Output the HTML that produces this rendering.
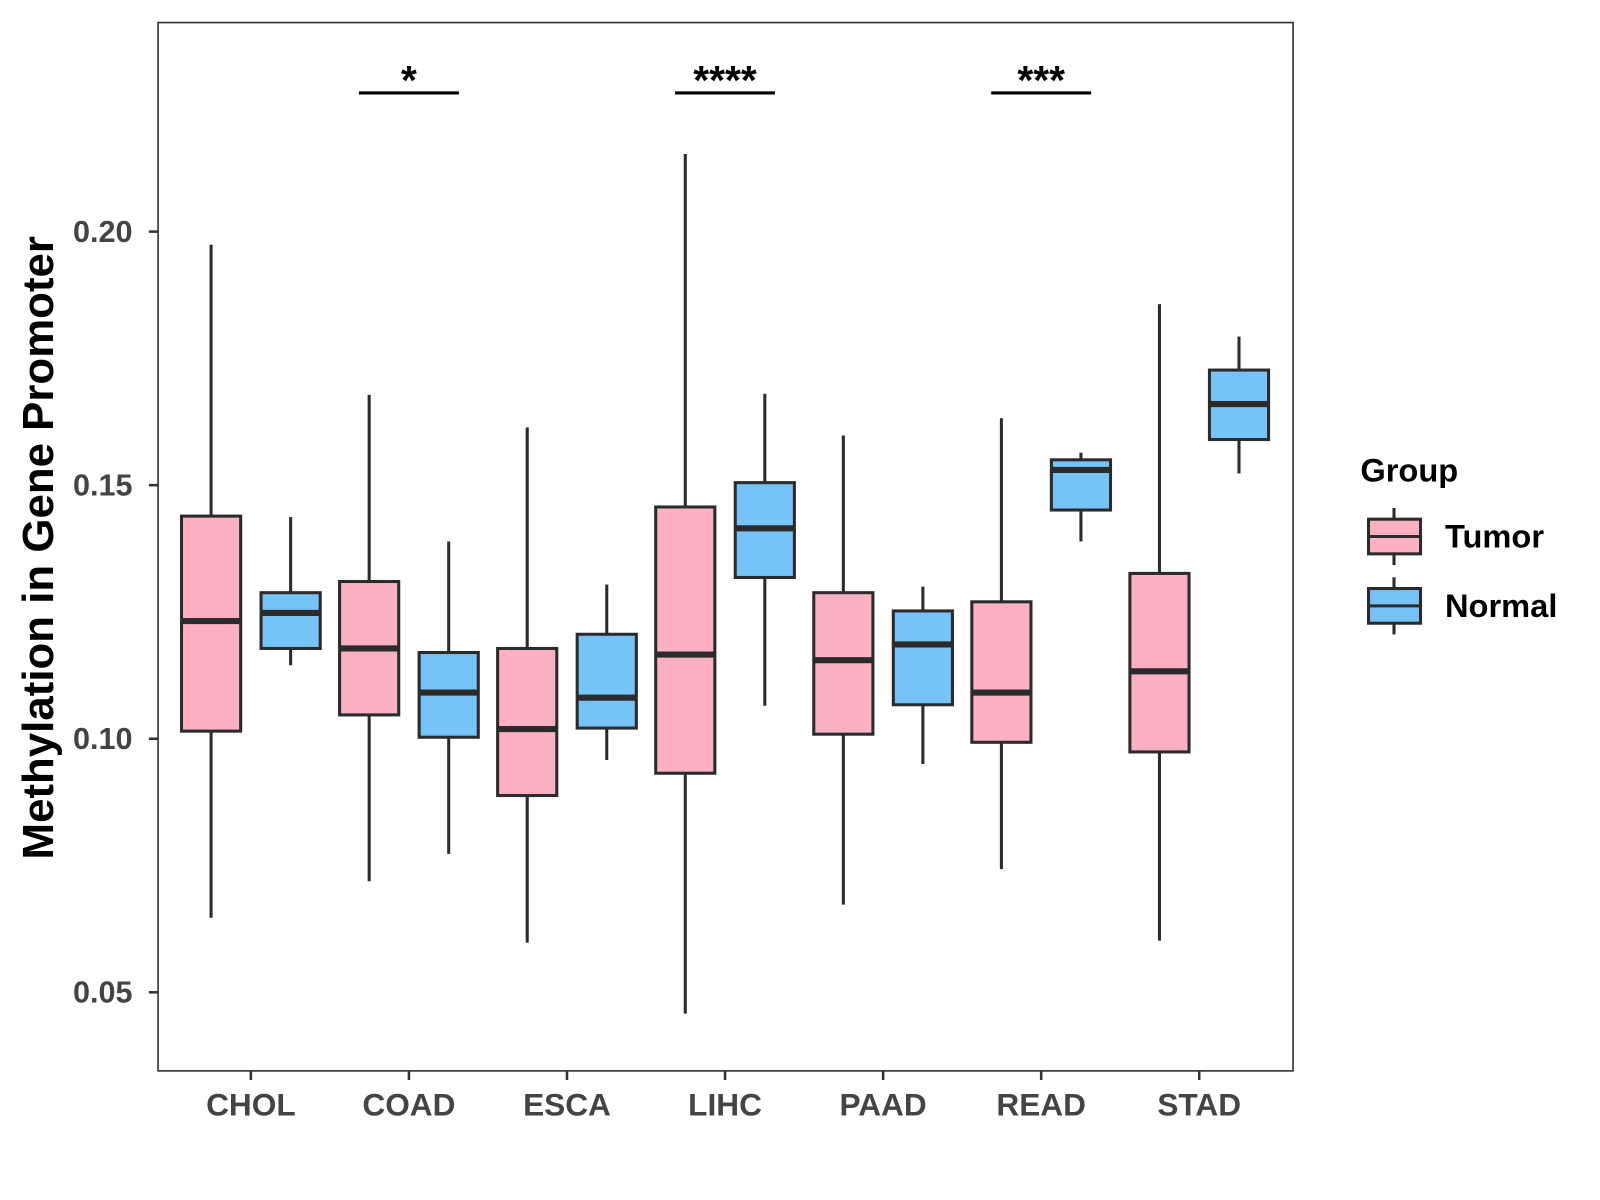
<!DOCTYPE html>
<html><head><meta charset="utf-8"><style>html,body{margin:0;padding:0;background:#fff}svg{display:block}</style></head>
<body>
<svg id="chart" width="1600" height="1200" viewBox="0 0 1569 1176.5" xmlns="http://www.w3.org/2000/svg" font-family="Liberation Sans, Arial, sans-serif">
<rect width="1569" height="1176.5" fill="#fff"/>
</svg>
<script>
const categories = ["CHOL","COAD","ESCA","LIHC","PAAD","READ","STAD"];
// [lowerWhisker, Q1, median, Q3, upperWhisker]
const tumorStats = [
 [0.0647,0.1015,0.1232,0.1439,0.1974],
 [0.0719,0.1047,0.1178,0.1310,0.1678],
 [0.0598,0.0888,0.1019,0.1178,0.1614],
 [0.0458,0.0932,0.1166,0.1457,0.2153],
 [0.0673,0.1009,0.1155,0.1288,0.1598],
 [0.0743,0.0993,0.1091,0.1270,0.1632],
 [0.0602,0.0974,0.1133,0.1326,0.1857]
];
const normalStats = [
 [0.1145,0.1178,0.1248,0.1288,0.1437],
 [0.0773,0.1003,0.1091,0.1170,0.1389],
 [0.0958,0.1021,0.1081,0.1206,0.1304],
 [0.1065,0.1318,0.1415,0.1505,0.1680],
 [0.0950,0.1067,0.1186,0.1252,0.1300],
 [0.1389,0.1451,0.1530,0.1550,0.1564],
 [0.1523,0.1590,0.1660,0.1727,0.1793]
];
const yTicks = [0.05,0.10,0.15,0.20];
const yTickLabels = ["0.05","0.10","0.15","0.20"];
const sigCategories = ["COAD","LIHC","READ"];
const sigLabels = ["*","****","***"];

const svg = document.getElementById('chart');
const NS = "http://www.w3.org/2000/svg";
const P = {l:155, r:1268, t:22, b:1050};
function y(v){ return 227 + (0.20 - v) * 4973; }
function x(i){ return 246 + i * 155; }
const W = 58, OFF = 39;
function mk(tag, attrs, parent){
  const e = document.createElementNS(NS, tag);
  for (const k in attrs) e.setAttribute(k, attrs[k]);
  (parent||svg).appendChild(e); return e;
}

const panel = mk('rect',{x:P.l,y:P.t,width:P.r-P.l,height:P.b-P.t,fill:'none',stroke:'#333','stroke-width':1.6});



yTicks.forEach((v,i)=>{
  const t = mk('line',{x1:P.l-9,x2:P.l,y1:y(v),y2:y(v),stroke:'#333','stroke-width':2.5});
  
  
  const lb = mk('text',{x:P.l-25,y:y(v)+10,'text-anchor':'end','font-size':30,'font-weight':'bold',fill:'#444'});
  lb.textContent = yTickLabels[i];
  
  
});
const yt = mk('text',{x:0,y:0,transform:'translate(52,537) rotate(-90)','text-anchor':'middle','font-size':43,'font-weight':'bold',fill:'#000'});
yt.textContent = "Methylation in Gene Promoter";



categories.forEach((c,i)=>{
  const t = mk('line',{x1:x(i),x2:x(i),y1:P.b,y2:P.b+9,stroke:'#333','stroke-width':2.5});
  
  
  const lb = mk('text',{x:x(i),y:P.b+44,'text-anchor':'middle','font-size':31,'font-weight':'bold',fill:'#444'});
  lb.textContent = c;
  
  
});

function drawBox(cx, s, fill, name){
  const g = mk('g',{});
  
  
  mk('line',{x1:cx,x2:cx,y1:y(s[4]),y2:y(s[3]),stroke:'#2b2b2b','stroke-width':3},g);
  mk('line',{x1:cx,x2:cx,y1:y(s[1]),y2:y(s[0]),stroke:'#2b2b2b','stroke-width':3},g);
  mk('rect',{x:cx-W/2,y:y(s[3]),width:W,height:y(s[1])-y(s[3]),fill:fill,stroke:'#2b2b2b','stroke-width':3},g);
  mk('line',{x1:cx-W/2,x2:cx+W/2,y1:y(s[2]),y2:y(s[2]),stroke:'#2b2b2b','stroke-width':6},g);
}
categories.forEach((c,i)=>{
  drawBox(x(i)-OFF, tumorStats[i], '#fcb1c3', 'box-tumor-'+c.toLowerCase());
  drawBox(x(i)+OFF, normalStats[i], '#77c2f7', 'box-normal-'+c.toLowerCase());
});

sigCategories.forEach((c,k)=>{
  const i = categories.indexOf(c);
  const l = mk('line',{x1:x(i)-OFF-10,x2:x(i)+OFF+10,y1:91,y2:91,stroke:'#000','stroke-width':3});
  
  
  const t = mk('text',{x:x(i),y:92,'text-anchor':'middle','font-size':40,'font-weight':'bold',fill:'#000'});
  t.textContent = sigLabels[k];
  
  
});

const lg = mk('g',{});


const lt = mk('text',{x:1334,y:472,'font-size':32,'font-weight':'bold',fill:'#000'},lg);
lt.textContent = "Group";


[["Tumor",'#fcb1c3',526],["Normal",'#77c2f7',594]].forEach(([n,f,cy])=>{
  const e = mk('g',{},lg);
  
  
  mk('line',{x1:1367,x2:1367,y1:cy-28,y2:cy+28,stroke:'#2b2b2b','stroke-width':3},e);
  mk('rect',{x:1342,y:cy-17,width:51,height:34,fill:f,stroke:'#2b2b2b','stroke-width':3},e);
  mk('line',{x1:1342,x2:1393,y1:cy,y2:cy,stroke:'#2b2b2b','stroke-width':3},e);
  const t = mk('text',{x:1417,y:cy+11,'font-size':32,'font-weight':'bold',fill:'#000'},e);
  t.textContent = n;
});
</script>
</body></html>
